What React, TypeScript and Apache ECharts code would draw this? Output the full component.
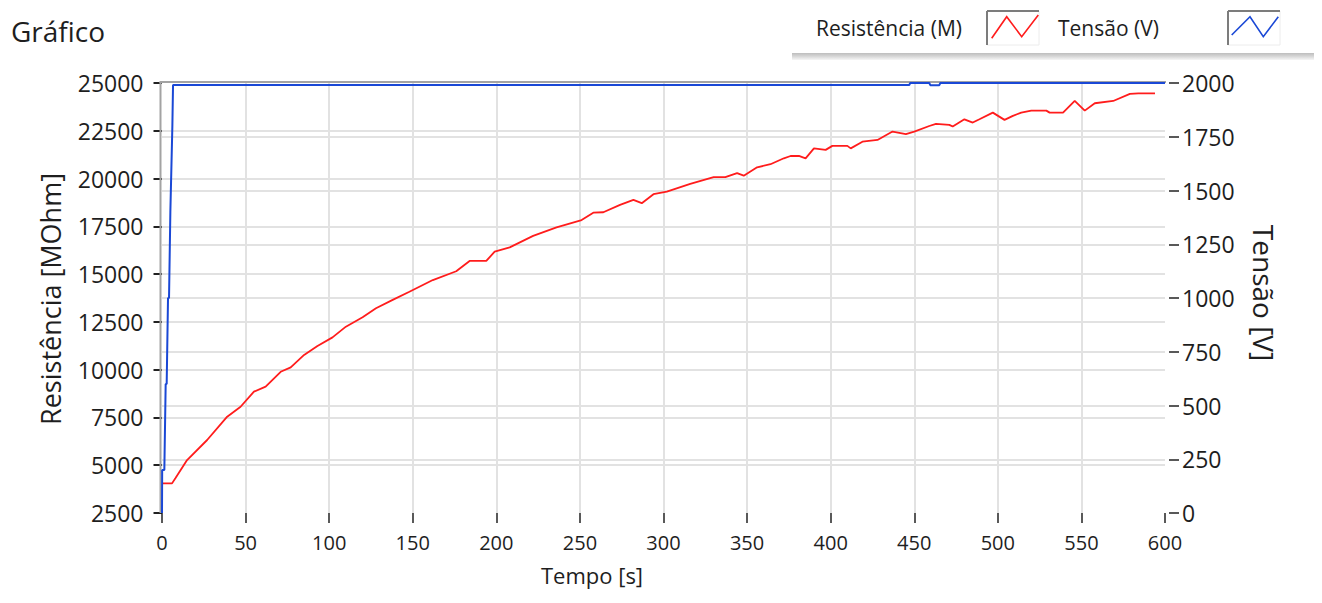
import React, { useEffect, useRef } from "react";
import * as echarts from "echarts";

// Resistência (MOhm) vs time (s)
const resTime = [0, 6, 8, 15, 27, 39, 47, 55, 62, 71, 77, 85, 93, 102, 110, 120, 128, 138, 148, 162, 176, 184, 194, 199, 208, 222, 236, 251, 258, 264, 274, 282, 287, 294, 302, 316, 330, 337, 344, 348, 356, 364, 372, 376, 381, 385, 390, 397, 401, 410, 412, 419, 428, 437, 445, 450, 459, 463, 471, 473, 480, 485, 489, 497, 504, 509, 514, 520, 529, 531, 539, 546, 552, 558, 569, 579, 584, 594];
const resValues = [4050, 4050, 4320, 5270, 6320, 7540, 8060, 8850, 9110, 9890, 10120, 10770, 11240, 11690, 12250, 12740, 13210, 13650, 14080, 14690, 15150, 15690, 15690, 16175, 16400, 17000, 17450, 17830, 18215, 18237, 18620, 18880, 18710, 19180, 19320, 19720, 20070, 20070, 20280, 20150, 20590, 20750, 21060, 21180, 21190, 21060, 21580, 21500, 21710, 21710, 21580, 21930, 22020, 22460, 22330, 22460, 22750, 22860, 22810, 22720, 23100, 22930, 23100, 23450, 23070, 23280, 23450, 23555, 23555, 23450, 23450, 24060, 23555, 23940, 24060, 24430, 24460, 24460];

// Tensão (V) vs time (s)
const voltTime = [0, 0.1, 1.4, 2.2, 2.8, 3.6, 4.2, 5.0, 5.4, 6.2, 6.4, 6.6, 447, 447.6, 459, 459.6, 465, 465.6, 600];
const voltValues = [0, 200, 200, 600, 600, 1000, 1000, 1400, 1400, 1800, 1800, 1991, 1991, 2000, 2000, 1990, 1990, 2000, 2000];

const xTicks = { min: 0, max: 600, interval: 50 };
const leftTicks = { min: 2500, max: 25000, interval: 2500 };
const rightTicks = { min: 0, max: 2000, interval: 250 };

const titleText = "Gráfico";
const seriesNames = ["Resistência (M)", "Tensão (V)"];
const leftName = "Resistência [MOhm]";
const rightName = "Tensão [V]";
const xName = "Tempo [s]";

const FONT = "'Open Sans', 'Noto Sans', sans-serif";
const TXT = "#1e1e1e";
const RED = "#ff1c1c";
const BLUE = "#1a48d6";
const GRIDC = "#e2e2e2";

const plain = (v: number) => String(v);

export default function App() {
  const ref = useRef<HTMLDivElement>(null);
  useEffect(() => {
    if (!ref.current) return;
    const chart = echarts.init(ref.current, null, { renderer: "svg" });
    const resData = resTime.map((t, i) => [t, resValues[i]]);
    const voltData = voltTime.map((t, i) => [t, voltValues[i]]);

    const gl = 162, gr = 1165, gt = 83, gb = 513;

    const legendBox = (x: number, color: string, pts: number[][]) => [
      { type: "rect", shape: { x, y: 11, width: 52, height: 34 }, style: { fill: "#fff", stroke: "#ececec", lineWidth: 1 } },
      { type: "line", shape: { x1: x, y1: 11, x2: x, y2: 45 }, style: { stroke: "#7c7c7c", lineWidth: 2 } },
      { type: "line", shape: { x1: x, y1: 11, x2: x + 52, y2: 11 }, style: { stroke: "#7c7c7c", lineWidth: 2 } },
      { type: "polyline", shape: { points: pts }, style: { stroke: color, lineWidth: 1.6, fill: null } },
    ];

    chart.setOption({
      animation: false,
      textStyle: { fontFamily: FONT },
      grid: { left: gl, right: 1322 - gr, top: gt, bottom: 603 - gb, containLabel: false },
      xAxis: {
        type: "value",
        min: xTicks.min,
        max: xTicks.max,
        interval: xTicks.interval,
        offset: 4,
        axisLine: { show: false },
        axisTick: { show: true, length: 10, lineStyle: { color: "#222", width: 1.5 } },
        axisLabel: { fontSize: 20, color: TXT, margin: 15, fontFamily: FONT, formatter: plain },
        splitLine: { show: true, showMinLine: false, showMaxLine: false, lineStyle: { color: GRIDC, width: 2 } },
      },
      yAxis: [
        {
          type: "value",
          position: "left",
          min: leftTicks.min,
          max: leftTicks.max,
          interval: leftTicks.interval,
          offset: 5,
          axisLine: { show: false },
          axisTick: { show: true, length: 8.5, lineStyle: { color: "#222", width: 2 } },
          axisLabel: { fontSize: 23, color: TXT, margin: 13.5, fontFamily: FONT, formatter: plain },
          splitLine: { show: true, showMinLine: false, showMaxLine: false, lineStyle: { color: GRIDC, width: 2 } },
        },
        {
          type: "value",
          position: "right",
          min: rightTicks.min,
          max: rightTicks.max,
          interval: rightTicks.interval,
          offset: 4,
          axisLine: { show: false },
          axisTick: { show: true, length: 10, lineStyle: { color: "#222", width: 1.5 } },
          axisLabel: { fontSize: 23, color: TXT, margin: 13, fontFamily: FONT, formatter: plain },
          splitLine: { show: true, showMinLine: false, showMaxLine: false, lineStyle: { color: GRIDC, width: 2 } },
        },
      ],
      series: [
        {
          name: seriesNames[0],
          type: "line",
          yAxisIndex: 0,
          data: resData,
          showSymbol: false,
          symbol: "none",
          lineStyle: { color: RED, width: 1.8 },
          z: 3,
        },
        {
          name: seriesNames[1],
          type: "line",
          yAxisIndex: 1,
          data: voltData,
          showSymbol: false,
          symbol: "none",
          clip: false,
          lineStyle: { color: BLUE, width: 2 },
          z: 4,
        },
      ],
      graphic: [
        // plot border (left & top)
        { type: "line", z: 1, shape: { x1: gl - 1.5, y1: gt - 1, x2: gl - 1.5, y2: gb }, style: { stroke: "#a3a3a3", lineWidth: 2 } },
        { type: "line", z: 1, shape: { x1: gl - 2.5, y1: gt - 1, x2: gr + 1, y2: gt - 1 }, style: { stroke: "#a3a3a3", lineWidth: 2 } },
        // title
        { type: "text", x: 11, y: 31, style: { text: titleText, fontSize: 28, fontFamily: FONT, fill: TXT, align: "left", verticalAlign: "middle" } },
        // legend shadow
        {
          type: "rect",
          shape: { x: 792, y: 53, width: 530, height: 7 },
          style: {
            fill: new echarts.graphic.LinearGradient(0, 0, 0, 1, [
              { offset: 0, color: "#bdbdbd" },
              { offset: 0.5, color: "#d8d8d8" },
              { offset: 1, color: "#f6f6f6" },
            ]),
          },
        },
        { type: "text", x: 816, y: 28, style: { text: seriesNames[0], fontSize: 21, fontFamily: FONT, fill: TXT, align: "left", verticalAlign: "middle" } },
        ...legendBox(987, RED, [[991.7, 38.3], [1006.7, 16.7], [1021.7, 36.7], [1038.3, 15]]),
        { type: "text", x: 1058, y: 28, style: { text: seriesNames[1], fontSize: 21, fontFamily: FONT, fill: TXT, align: "left", verticalAlign: "middle" } },
        ...legendBox(1228, BLUE, [[1231.7, 35], [1250, 16.7], [1263.3, 36.7], [1278.3, 16.7]]),
        // axis names
        { type: "text", x: 50, y: 299, rotation: Math.PI / 2, style: { text: leftName, fontSize: 27, fontFamily: FONT, fill: TXT, align: "center", verticalAlign: "middle" } },
        { type: "text", x: 1264, y: 293, rotation: -Math.PI / 2, style: { text: rightName, fontSize: 28, fontFamily: FONT, fill: TXT, align: "center", verticalAlign: "middle" } },
        { type: "text", x: 592, y: 575, style: { text: xName, fontSize: 22, fontFamily: FONT, fill: TXT, align: "center", verticalAlign: "middle" } },
      ],
    });
    return () => chart.dispose();
  }, []);
  return <div ref={ref} style={{ width: 1322, height: 603, margin: -8 }} />;
}
